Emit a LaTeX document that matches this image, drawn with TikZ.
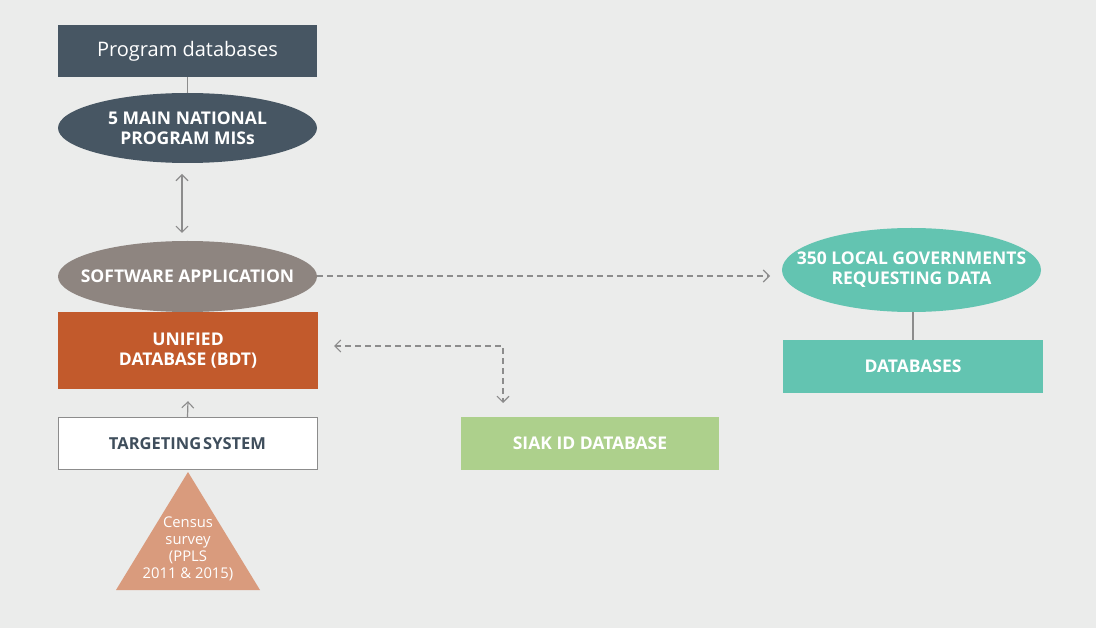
\documentclass[tikz,border=0pt]{standalone}
\usepackage{fontspec}
\setmainfont{Open Sans}
\usetikzlibrary{shapes.geometric,arrows.meta}

\definecolor{bgc}{HTML}{EBECEB}
\definecolor{slate}{HTML}{475663}
\definecolor{taupe}{HTML}{8E8580}
\definecolor{rust}{HTML}{C25A2C}
\definecolor{teal}{HTML}{63C4B1}
\definecolor{leaf}{HTML}{ADD08C}
\definecolor{sand}{HTML}{D99B7D}
\definecolor{ink}{HTML}{3F4E5C}
\definecolor{wire}{HTML}{8C8C8C}

\tikzset{
  x=1pt, y=-1pt,
  capsfont/.style={font=\bfseries\fontsize{17.5}{20}\selectfont},
  boxnode/.style={rectangle, inner sep=0pt, minimum width=259pt, minimum height=53pt,
    text=white, align=center, capsfont},
  ovalnode/.style={ellipse, inner sep=0pt, minimum width=259pt, minimum height=70pt},
  ovaltext/.style={inner sep=0pt, text=white, align=center, capsfont},
  link/.style={draw=wire, line width=1.2pt},
  barb/.style={arrows={-Straight Barb[length=6pt,width=12pt,line width=1.1pt]}},
  twobarb/.style={arrows={Straight Barb[length=6pt,width=12pt,line width=1.1pt]-Straight Barb[length=6pt,width=12pt,line width=1.1pt]}},
  dashlink/.style={link, dash pattern=on 6pt off 4pt}
}

\begin{document}
\begin{tikzpicture}
  \fill[bgc] (0,0) rectangle (1096,628);
  \useasboundingbox (0,0) rectangle (1096,628);

  % left column
  \node[boxnode, fill=slate, minimum height=52pt, font=\fontsize{20}{24}\selectfont] (prog) at (187.5,51) {Program databases};
  \node[ovalnode, fill=slate] (mis) at (187.5,128) {};
  \node[ovaltext] (mistext) at (mis) {5 MAIN NATIONAL\\PROGRAM MISs};
  \node[ovalnode, fill=taupe, minimum height=71pt] (soft) at (187.5,276.5) {};
  \node[ovaltext] (softtext) at (soft) {SOFTWARE APPLICATION};
  \node[boxnode, fill=rust, minimum height=77pt, minimum width=260pt] (bdt) at (188,350.5) {UNIFIED\\DATABASE (BDT)};
  \node[boxnode, fill=white, draw=wire, line width=1pt, text=ink, minimum height=52pt,
        font=\bfseries\fontsize{16.5}{20}\selectfont] (target) at (187.5,443.5) {TARGETING\hspace{0.12em}SYSTEM};

  % census triangle
  \fill[sand] (188,472) -- (260,590) -- (116,590) -- cycle;
  \node[text=white, align=center, font=\fontsize{14.8}{17}\selectfont, inner sep=0pt] (census) at (188,549) {Census\\survey\\(PPLS\\2011 \& 2015)};

  % right side
  \node[ovalnode, fill=teal, minimum height=84pt] (local) at (911.5,270) {};
  \node[ovaltext] (localtext) at (local) {350 LOCAL GOVERNMENTS\\REQUESTING DATA};
  \node[boxnode, fill=teal, minimum width=260pt] (dbs) at (913,366.5) {DATABASES};
  \node[boxnode, fill=leaf, minimum width=258pt] (siak) at (590,443.5) {SIAK ID DATABASE};

  % connectors
  \draw[link] (prog.south) -- (mis.north);
  \draw[link] (local.south -| dbs.north) -- (dbs.north);
  \coordinate (misgap) at (182,174);
  \coordinate (softgap) at (182,233);
  \draw[link, twobarb] (misgap) -- (softgap);
  \draw[link, barb] (target.north) -- ([yshift=-12pt]bdt.south);
  \coordinate (localgap) at (770,276);
  \draw[dashlink, barb] (soft.east |- 0,276) -- (localgap);
  \coordinate (bdtgap) at (334,346);
  \coordinate (elbow) at (503,346);
  \coordinate (siakgap) at (503,403);
  \draw[dashlink, twobarb] (bdtgap) -- (elbow) -- (siakgap);
\end{tikzpicture}
\end{document}
